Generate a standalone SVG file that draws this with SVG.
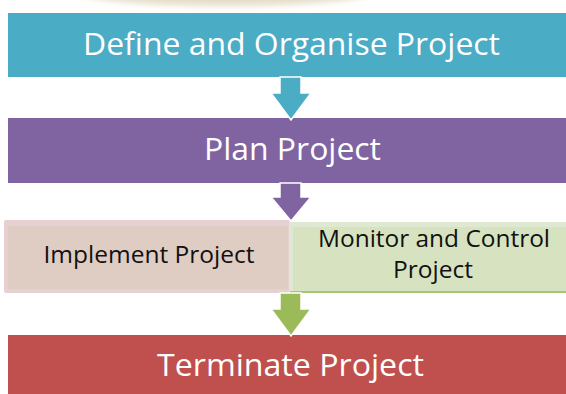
<svg xmlns="http://www.w3.org/2000/svg" width="566" height="394" viewBox="0 0 566 394">
  <defs>
    <filter id="soft" x="-20%" y="-100%" width="140%" height="300%">
      <feGaussianBlur stdDeviation="3"/>
    </filter>
    <style>
      .lbl { font-family: "Open Sans", "Noto Sans", "Liberation Sans", sans-serif; text-anchor: middle; }
      .big { font-size: 31px; fill: #ffffff; }
      .small { font-size: 23.5px; fill: #111111; }
      .arrow { stroke: #ffffff; stroke-width: 1.5; stroke-linejoin: miter; }
    </style>
  </defs>

  <rect x="0" y="0" width="566" height="394" fill="#ffffff"/>

  <!-- soft dish shape peeking in at the top edge -->
  <ellipse cx="225" cy="-9" rx="150" ry="15" fill="#E6DDC8" filter="url(#soft)"/>

  <g id="define">
    <rect x="8" y="13" width="558" height="64" fill="#4BACC6"/>
    <text class="lbl big" x="291.5" y="55" textLength="417" lengthAdjust="spacingAndGlyphs">Define and Organise Project</text>
  </g>

  <g id="plan">
    <rect x="8" y="118" width="558" height="65" fill="#8064A2"/>
    <text class="lbl big" x="292.5" y="160" textLength="177" lengthAdjust="spacingAndGlyphs">Plan Project</text>
  </g>

  <g id="implement">
    <rect x="4" y="220" width="286" height="73" rx="2" fill="#E7D0D1"/>
    <rect x="8" y="226" width="280" height="63" fill="#DFCCC3"/>
    <text class="lbl small" x="149" y="263" textLength="211" lengthAdjust="spacingAndGlyphs">Implement Project</text>
  </g>

  <g id="monitor">
    <rect x="289" y="222" width="277" height="71" fill="#DFE8D0"/>
    <rect x="293" y="227" width="273" height="64" fill="#D7E3C0"/>
    <rect x="290" y="291" width="276" height="2" fill="#A9C476"/>
    <text class="lbl small" x="434" y="247" textLength="232" lengthAdjust="spacingAndGlyphs">Monitor and Control</text>
    <text class="lbl small" x="433" y="278" textLength="80" lengthAdjust="spacingAndGlyphs">Project</text>
  </g>

  <g id="terminate">
    <rect x="8" y="335" width="558" height="59" fill="#C0504D"/>
    <text class="lbl big" x="290.5" y="376" textLength="267" lengthAdjust="spacingAndGlyphs">Terminate Project</text>
  </g>

  <g id="connectors">
    <path class="arrow" fill="#4BACC6" d="M280,77 L301,77 L301,93 L311,93 L291,120 L271,93 L280,93 Z"/>
    <path class="arrow" fill="#8064A2" d="M280,183 L301,183 L301,197 L311,197 L291,221 L271,197 L280,197 Z"/>
    <path class="arrow" fill="#9BBB59" d="M280,293 L301,293 L301,309 L311,309 L291,336 L271,309 L280,309 Z"/>
  </g>
</svg>
